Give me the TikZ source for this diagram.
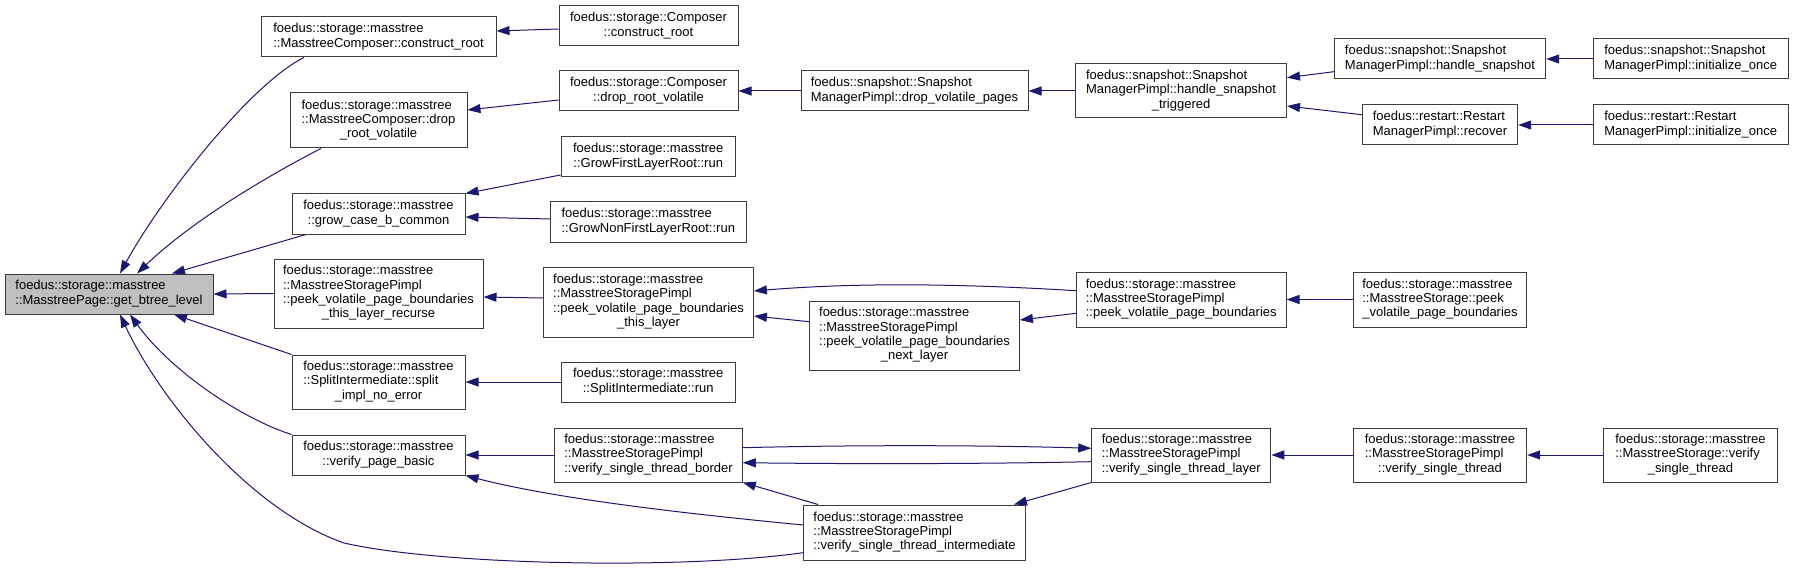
\documentclass[tikz,border=0pt]{standalone}
\usepackage{fontspec}
\setmainfont{Liberation Sans}
\usetikzlibrary{arrows.meta,calc}
\definecolor{edgecol}{RGB}{25,25,112}
\definecolor{boxline}{RGB}{60,60,60}
\definecolor{hifill}{RGB}{191,191,191}
\newcommand\lb[2]{\begin{tabular}{@{}l@{}}#1\\\multicolumn{1}{@{}c@{}}{#2}\end{tabular}}
\newcommand\bx[7][]{\node[box, #1, minimum width={#5pt-#3pt}, minimum height={#6pt-#4pt}] (#2) at ({(#3+#5)/2},{(#4+#6)/2}) {#7};}
\tikzset{
  box/.style={draw=boxline, fill=white, line width=1pt, inner sep=0pt, rectangle,
    font=\fontsize{13}{14.3}\selectfont},
  current/.style={fill=hifill},
  edge/.style={draw=edgecol, line width=1pt, -{Triangle[length=13pt,width=9pt]}, fill=none},
}
\begin{document}
\begin{tikzpicture}[x=1pt,y=-1pt]
\useasboundingbox (0,0) rectangle (1793,572);
% column 1
\bx[current]{A}{5}{274}{213}{314}{\lb{foedus::storage::masstree}{::MasstreePage::get\_btree\_level}}
% column 2
\bx{B1}{261}{17}{496}{57}{\lb{foedus::storage::masstree}{::MasstreeComposer::construct\_root}}
\bx{B2}{290}{93}{467}{148}{\lb{foedus::storage::masstree\\::MasstreeComposer::drop}{\_root\_volatile}}
\bx{B3}{292}{194}{465}{234}{\lb{foedus::storage::masstree}{::grow\_case\_b\_common}}
\bx{B4}{274}{259}{483}{328}{\lb{foedus::storage::masstree\\::MasstreeStoragePimpl\\::peek\_volatile\_page\_boundaries}{\_this\_layer\_recurse}}
\bx{B5}{292}{355}{465}{409}{\lb{foedus::storage::masstree\\::SplitIntermediate::split}{\_impl\_no\_error}}
\bx{B6}{292}{435}{465}{475}{\lb{foedus::storage::masstree}{::verify\_page\_basic}}
% column 3
\bx{C1}{559}{6}{738}{46}{\lb{foedus::storage::Composer}{::construct\_root}}
\bx{C2}{559}{71}{738}{111}{\lb{foedus::storage::Composer}{::drop\_root\_volatile}}
\bx{C3}{561}{137}{735.5}{177}{\lb{foedus::storage::masstree}{::GrowFirstLayerRoot::run}}
\bx{C4}{550.6}{202}{746}{242}{\lb{foedus::storage::masstree}{::GrowNonFirstLayerRoot::run}}
\bx{C5}{543.7}{267}{753.4}{337}{\lb{foedus::storage::masstree\\::MasstreeStoragePimpl\\::peek\_volatile\_page\_boundaries}{\_this\_layer}}
\bx{C6}{561}{362}{735.5}{402}{\lb{foedus::storage::masstree}{::SplitIntermediate::run}}
\bx{C7}{554.8}{428}{742.3}{482}{\lb{foedus::storage::masstree\\::MasstreeStoragePimpl}{::verify\_single\_thread\_border}}
% column 4
\bx{D1}{801}{71}{1028}{111}{\lb{foedus::snapshot::Snapshot}{ManagerPimpl::drop\_volatile\_pages}}
\bx{D2}{809.7}{301}{1019.4}{370}{\lb{foedus::storage::masstree\\::MasstreeStoragePimpl\\::peek\_volatile\_page\_boundaries}{\_next\_layer}}
\bx{D3}{803.6}{505}{1025.5}{560}{\lb{foedus::storage::masstree\\::MasstreeStoragePimpl}{::verify\_single\_thread\_intermediate}}
% column 5
\bx{E1}{1075.6}{64}{1286.5}{118}{\lb{foedus::snapshot::Snapshot\\ManagerPimpl::handle\_snapshot}{\_triggered}}
\bx{E2}{1076.5}{272}{1286}{327}{\lb{foedus::storage::masstree\\::MasstreeStoragePimpl}{::peek\_volatile\_page\_boundaries}}
\bx{E3}{1091.7}{428}{1270.8}{482}{\lb{foedus::storage::masstree\\::MasstreeStoragePimpl}{::verify\_single\_thread\_layer}}
% column 6
\bx{F1}{1334.3}{39}{1545.7}{79}{\lb{foedus::snapshot::Snapshot}{ManagerPimpl::handle\_snapshot}}
\bx{F2}{1362.3}{105}{1517.7}{145}{\lb{foedus::restart::Restart}{ManagerPimpl::recover}}
\bx{F3}{1353.3}{272}{1526.7}{327}{\lb{foedus::storage::masstree\\::MasstreeStorage::peek}{\_volatile\_page\_boundaries}}
\bx{F4}{1353.3}{428}{1526.7}{482}{\lb{foedus::storage::masstree\\::MasstreeStoragePimpl}{::verify\_single\_thread}}
% column 7
\bx{G1}{1593}{39}{1788.3}{79}{\lb{foedus::snapshot::Snapshot}{ManagerPimpl::initialize\_once}}
\bx{G2}{1593}{105}{1788.3}{145}{\lb{foedus::restart::Restart}{ManagerPimpl::initialize\_once}}
\bx{G3}{1603.5}{428}{1777.4}{482}{\lb{foedus::storage::masstree\\::MasstreeStorage::verify}{\_single\_thread}}

% edges into A
\draw[edge] ($(B1.south)+(-74.5,0)$) .. controls (250,84) and (160,200) .. ($(A.north)+(11,0)$);
\draw[edge] ($(B2.south)+(-57.5,0)$) .. controls (275,172) and (195,218) .. ($(A.north)+(28,0)$);
\draw[edge] ($(B3.south)+(-72.5,0)$) -- ($(A.north)+(63,0)$);
\draw[edge] (B4.west) -- (A.east);
\draw[edge] (B5.north west) -- ($(A.south)+(65,0)$);
\draw[edge] (B6.north west) .. controls (240,418) and (170,370) .. ($(A.south)+(21,0)$);
\draw[edge] ($(D3.west)+(0,20.2)$) .. controls (680,570) and (440,565) .. (344,543) .. controls (250,510) and (160,400) .. ($(A.south)+(11,0)$);
% column 3 -> 2
\draw[edge] ($(C1.west)+(0,3)$) -- ($(B1.east)+(0,-6)$);
\draw[edge] ($(C2.west)+(0,9)$) -- ($(B2.east)+(0,-10.5)$);
\draw[edge] ($(C3.west)+(0,18)$) -- (B3.north east);
\draw[edge] ($(C4.west)+(0,-3)$) -- ($(B3.east)+(0,3)$);
\draw[edge] ($(C5.west)+(0,-4)$) -- ($(B4.east)+(0,3.5)$);
\draw[edge] (C6.west) -- (B5.east);
\draw[edge] (C7.west) -- (B6.east);
\draw[edge] ($(D3.west)+(0,-7.5)$) .. controls (700,515) and (560,500) .. (B6.south east);
% column 4 -> 3
\draw[edge] (D1.west) -- (C2.east);
\draw[edge] ($(D2.west)+(0,-13.8)$) -- ($(C5.east)+(0,14)$);
\draw[edge] ($(E2.west)+(0,-8.8)$) .. controls (950,283) and (850,283) .. ($(C5.east)+(0,-11)$);
\draw[edge] ($(C7.east)+(0,-7.3)$) .. controls (850,445) and (980,445) .. ($(E3.west)+(0,-6.7)$);
\draw[edge] ($(E3.west)+(0,6.7)$) .. controls (980,464) and (850,464) .. ($(C7.east)+(0,7.7)$);
\draw[edge] ($(D3.north west)+(15,0)$) -- (C7.south east);
% column 5 -> 4
\draw[edge] (E1.west) -- (D1.east);
\draw[edge] ($(E2.west)+(0,13.8)$) -- ($(D2.east)+(0,-15.5)$);
\draw[edge] (E3.south west) -- ($(D3.north east)+(-12,0)$);
% column 6 -> 5
\draw[edge] ($(F1.west)+(0,12.7)$) -- ($(E1.east)+(0,-13.3)$);
\draw[edge] ($(F2.west)+(0,-10.3)$) -- ($(E1.east)+(0,15)$);
\draw[edge] (F3.west) -- (E2.east);
\draw[edge] (F4.west) -- (E3.east);
% column 7 -> 6
\draw[edge] (G1.west) -- (F1.east);
\draw[edge] (G2.west) -- (F2.east);
\draw[edge] (G3.west) -- (F4.east);
\end{tikzpicture}
\end{document}
